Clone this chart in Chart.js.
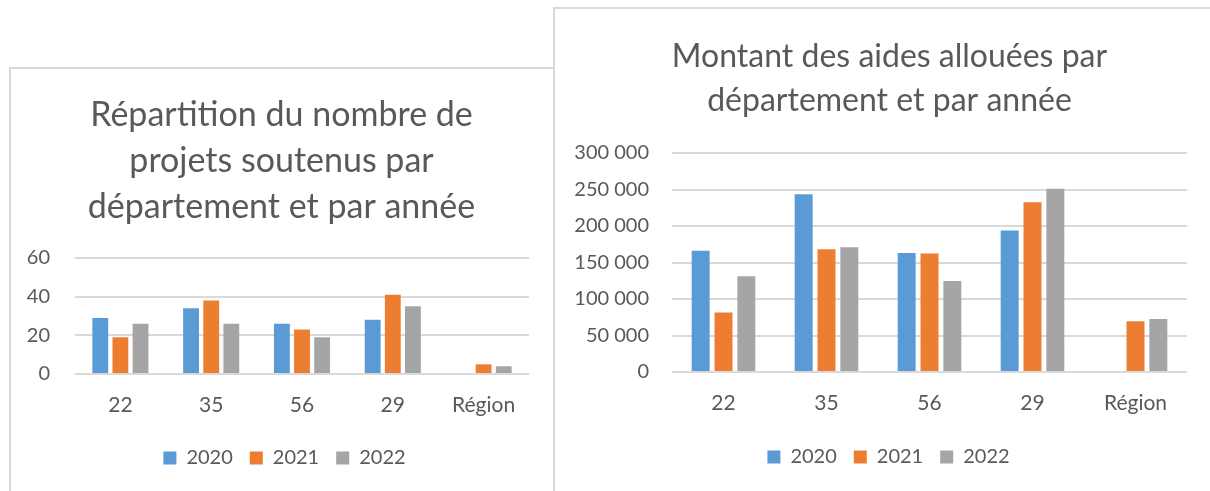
<html>
<head>
    <meta charset="utf-8">
    <script src="https://cdn.jsdelivr.net/npm/chart.js@4.4.3/dist/chart.umd.min.js"></script>
    <style>
        body { margin: 0; width: 1210px; height: 491px; overflow: hidden; background: #fff; position: relative; }
        .panel { position: absolute; border: 2px solid #d9d9d9; background: #fff; }
        canvas { position: absolute; }
    </style>
</head>
<body>
<div class="panel" style="left:9px; top:67px; width:560px; height:500px; z-index:1;"></div>
<div class="panel" style="left:553px; top:7px; width:700px; height:520px; z-index:2;"></div>
<canvas id="chartProjets" width="544" height="423" style="left:10px; top:68px; z-index:3;"></canvas>
<canvas id="chartMontants" width="668" height="481" style="left:556px; top:10px; z-index:4;"></canvas>
<script>
    // catégories et séries
    const categories = ['22', '35', '56', '29', 'Région'];
    const years = ['2020', '2021', '2022'];
    const colors = ['#5b9bd5', '#ed7d31', '#a5a5a5'];

    const projets2020 = [29, 34, 26, 28, null];
    const projets2021 = [19, 38, 23, 41, 5];
    const projets2022 = [26, 26, 19, 35, 4];

    const montants2020 = [166000, 243500, 163000, 194000, null];
    const montants2021 = [81500, 168000, 162500, 232500, 69500];
    const montants2022 = [131000, 171000, 124500, 251000, 72500];

    const projetsTicks = [0, 20, 40, 60];
    const montantsTicks = [0, 50000, 100000, 150000, 200000, 250000, 300000];

    const txt = '#595959';
    const font = 'Lato';

    function fmt(v) {
        return String(v).replace(/\B(?=(\d{3})+(?!\d))/g, ' ');
    }

    // décale titre et légende (centrés sur tout le graphique, pas sur la zone de tracé)
    const shiftPlugin = {
        id: 'shift',
        afterLayout(chart, args, opts) {
            chart.titleBlock.left += opts.title;
            chart.titleBlock.right += opts.title;
            chart.legend.left += opts.legend;
            chart.legend.right += opts.legend;
        }
    };

    function makeChart(id, series, ticks, o) {
        let datasets = series.map((d, i) => ({
            label: years[i],
            data: d,
            backgroundColor: colors[i],
            categoryPercentage: 0.665,
            barPercentage: 0.787
        }));

        let config = {
            type: 'bar',
            data: { labels: categories, datasets: datasets },
            plugins: [shiftPlugin],
            options: {
                responsive: false,
                animation: false,
                layout: { padding: { left: 0, right: o.padRight, top: 0, bottom: o.padBottom } },
                plugins: {
                    shift: { title: o.shiftTitle, legend: o.shiftLegend },
                    title: {
                        display: true,
                        text: o.title,
                        color: txt,
                        font: { family: font, size: o.titleSize, weight: 'normal', lineHeight: o.titleLine / o.titleSize },
                        padding: { top: o.titleTop, bottom: o.titleBottom }
                    },
                    legend: {
                        position: 'bottom',
                        labels: {
                            color: txt,
                            boxWidth: 13,
                            boxHeight: 13,
                            padding: 17,
                            font: { family: font, size: 20 }
                        }
                    },
                    tooltip: { enabled: false }
                },
                scales: {
                    x: {
                        grid: { display: false, drawTicks: false },
                        border: { display: false },
                        ticks: { color: txt, padding: 19, font: { family: font, size: 21 } },
                        afterFit: s => { s.height = o.xHeight; }
                    },
                    y: {
                        min: ticks[0],
                        max: ticks[ticks.length - 1],
                        afterBuildTicks: s => { s.ticks = ticks.map(v => ({ value: v })); },
                        grid: { color: '#d9d9d9', lineWidth: 2, drawTicks: false },
                        border: { display: false },
                        ticks: { color: txt, padding: o.yPad, font: { family: font, size: 20 }, callback: v => fmt(v) },
                        afterFit: s => { s.width = o.yWidth; }
                    }
                }
            }
        };

        return new Chart(document.getElementById(id), config);
    }

    makeChart('chartProjets', [projets2020, projets2021, projets2022], projetsTicks, {
        title: ['Répartition du nombre de', 'projets soutenus par', 'département et par année'],
        titleSize: 34, titleLine: 46, titleTop: 24, titleBottom: 28,
        padRight: 25, padBottom: 13, yWidth: 65, yPad: 25, xHeight: 57,
        shiftTitle: 12, shiftLegend: 15
    });

    makeChart('chartMontants', [montants2020, montants2021, montants2022], montantsTicks, {
        title: ['Montant des aides allouées par', 'département et par année'],
        titleSize: 32, titleLine: 44, titleTop: 25, titleBottom: 30,
        padRight: 37, padBottom: 14, yWidth: 116, yPad: 23, xHeight: 58,
        shiftTitle: 18, shiftLegend: 17
    });
</script>
</body>
</html>
